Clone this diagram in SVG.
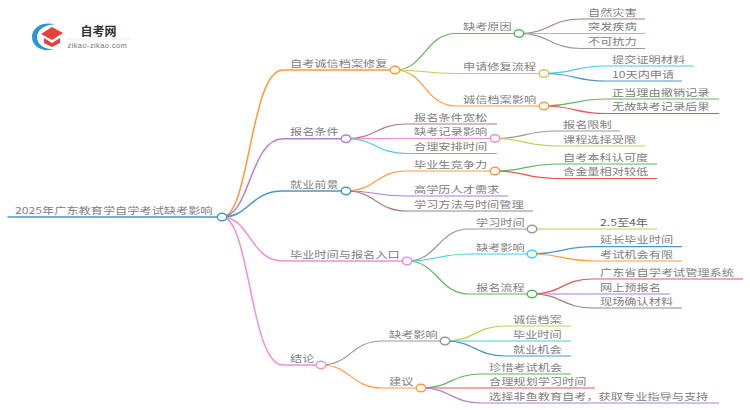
<svg xmlns="http://www.w3.org/2000/svg" width="750" height="410" viewBox="0 0 750 410">
<style>
text{font-family:"Noto Sans CJK SC","Noto Sans",sans-serif;font-size:12.2px;fill:#808080;transform-box:fill-box;transform-origin:0 100%;transform:translateY(-.6px) scaleY(.75)}
#logo text{transform:none}
path{fill:none;stroke-width:1.2}
.n{fill:#fff;stroke-width:1.5}
.or{stroke:#ff9a3c}.pu{stroke:#b07fd6}.bl{stroke:#4a96cc}.pk{stroke:#ee8fd8}.gn{stroke:#5cb85c}.ol{stroke:#cccc55}.br{stroke:#a8807a}.gy{stroke:#999}.cy{stroke:#3fd0e0}.rd{stroke:#e85555}
</style>
<rect width="750" height="410" fill="#fff"/>
<g id="logo">
<path d="M55,24.500 C42,21 32,28 32,37 C32,46 42,53 55,49 C45,50 37,45 37,37 C37,30 45,24 55,24.500Z" style="fill:#2a93d0;stroke:none"/>
<polygon points="41,34 52,27 63,33 52,40" fill="#e8403c"/>
<polygon points="44,38 52,43 60,38 60,43 52,47 44,43" fill="#e8403c"/>
<text x="80.500" y="36" style="font-size:12px;font-weight:700;fill:#333">自考网</text>
<path d="M66,39 H131" style="stroke:#eee;stroke-width:1"/>
<text x="67.500" y="48" style="font-size:7.500px;fill:#777;font-family:'Liberation Sans',sans-serif;letter-spacing:.4px">zikao-zikao.com</text>
</g>
<g id="connectors">
<path class="bl" d="M7.500,217 H222" style="stroke-width:1.500"/>
<path class="or" d="M222,217 C250,217 250,70 283,70 H395" style="stroke-width:1.500"/>
<path class="pu" d="M222,217 C250,217 250,138.700 283,138.700 H346" style="stroke-width:1.500"/>
<path class="bl" d="M222,217 C250,217 250,191 283,191 H346" style="stroke-width:1.500"/>
<path class="pk" d="M222,217 C250,217 250,261 283,261 H407" style="stroke-width:1.500"/>
<path class="pk" d="M222,217 C250,217 250,365 283,365 H321" style="stroke-width:1.500"/>

<path class="gn" d="M395,70 C425,70 425,33.500 456,33.500 H519"/>
<path class="ol" d="M395,70 C425,70 425,73.500 456,73.500 H544"/>
<path class="or" d="M395,70 C425,70 425,106 456,106 H544"/>
<path class="br" d="M519,33.500 C550,33.500 550,19 581,19 H645"/>
<path class="pk" d="M519,33.500 C550,33.500 550,33.500 581,33.500 H645"/>
<path class="gy" d="M519,33.500 C550,33.500 550,48.500 581,48.500 H645"/>
<path class="cy" d="M544,73.500 C575,73.500 575,66 605,66 H694"/>
<path class="bl" d="M544,73.500 C575,73.500 575,81 605,81 H682"/>
<path class="gn" d="M544,106 C575,106 575,99 605,99 H719"/>
<path class="rd" d="M544,106 C575,106 575,113.500 605,113.500 H719"/>

<path class="br" d="M346,138.700 C376,138.700 376,124 407,124 H497"/>
<path class="pk" d="M346,138.700 C376,138.700 376,138.500 407,138.500 H495"/>
<path class="cy" d="M346,138.700 C376,138.700 376,153.500 407,153.500 H497"/>
<path class="gy" d="M495,138.500 C525,138.500 525,131 556,131 H620"/>
<path class="ol" d="M495,138.500 C525,138.500 525,146 556,146 H645"/>

<path class="or" d="M346,191 C376,191 376,171 407,171 H495"/>
<path class="pu" d="M346,191 C376,191 376,196 407,196 H508"/>
<path class="br" d="M346,191 C376,191 376,211 407,211 H533"/>
<path class="gn" d="M495,171 C525,171 525,164 556,164 H657"/>
<path class="rd" d="M495,171 C525,171 525,178.500 556,178.500 H657"/>

<path class="gy" d="M407,261 C438,261 438,229 469,229 H532"/>
<path class="cy" d="M407,261 C438,261 438,254 469,254 H532"/>
<path class="gn" d="M407,261 C438,261 438,294 469,294 H532"/>
<path class="ol" d="M532,229 H657"/>
<path class="bl" d="M532,254 C562,254 562,246.700 593,246.700 H682"/>
<path class="or" d="M532,254 C562,254 562,261 593,261 H682"/>
<path class="rd" d="M532,294 C562,294 562,279 593,279 H743"/>
<path class="pu" d="M532,294 H670"/>
<path class="br" d="M532,294 C562,294 562,308 593,308 H682"/>

<path class="gy" d="M321,365 C351,365 351,341 382,341 H445"/>
<path class="or" d="M321,365 C351,365 351,388 382,388 H421"/>
<path class="ol" d="M445,341 C475,341 475,326 506,326 H571"/>
<path class="cy" d="M445,341 H571"/>
<path class="bl" d="M445,341 C475,341 475,356 506,356 H571"/>
<path class="gn" d="M421,388 C451,388 451,374 482,374 H571"/>
<path class="rd" d="M421,388 H595"/>
<path class="pu" d="M421,388 C451,388 451,403 482,403 H719"/>
</g>

<g id="root"><text x="15" y="213.500">2025年广东教育学自学考试缺考影响</text><ellipse class="n bl" cx="222" cy="217" rx="4.800" ry="3.800"/></g>

<g id="n1"><text x="290" y="66.500">自考诚信档案修复</text><ellipse class="n or" cx="395" cy="70" rx="4.800" ry="3.800"/></g>
<g id="n2"><text x="290" y="135.200">报名条件</text><ellipse class="n pu" cx="346" cy="138.700" rx="4.800" ry="3.800"/></g>
<g id="n3"><text x="290" y="187.500">就业前景</text><ellipse class="n bl" cx="346" cy="191" rx="4.800" ry="3.800"/></g>
<g id="n4"><text x="290" y="257.500">毕业时间与报名入口</text><ellipse class="n pk" cx="407" cy="261" rx="4.800" ry="3.800"/></g>
<g id="n5"><text x="290" y="361.500">结论</text><ellipse class="n pk" cx="321" cy="365" rx="4.800" ry="3.800"/></g>

<g id="n1-1"><text x="463" y="30">缺考原因</text><ellipse class="n gn" cx="519" cy="33.500" rx="4.800" ry="3.800"/></g>
<g id="n1-2"><text x="463" y="70">申请修复流程</text><ellipse class="n ol" cx="544" cy="73.500" rx="4.800" ry="3.800"/></g>
<g id="n1-3"><text x="463" y="102.500">诚信档案影响</text><ellipse class="n or" cx="544" cy="106" rx="4.800" ry="3.800"/></g>
<g id="n1-1-1"><text x="588" y="15.500">自然灾害</text></g>
<g id="n1-1-2"><text x="588" y="30">突发疾病</text></g>
<g id="n1-1-3"><text x="588" y="45">不可抗力</text></g>
<g id="n1-2-1"><text x="612" y="62.500">提交证明材料</text></g>
<g id="n1-2-2"><text x="612" y="77.500">10天内申请</text></g>
<g id="n1-3-1"><text x="612" y="95.500">正当理由撤销记录</text></g>
<g id="n1-3-2"><text x="612" y="110">无故缺考记录后果</text></g>

<g id="n2-1"><text x="414" y="120.500">报名条件宽松</text></g>
<g id="n2-2"><text x="414" y="135">缺考记录影响</text><ellipse class="n pk" cx="495" cy="138.500" rx="4.800" ry="3.800"/></g>
<g id="n2-3"><text x="414" y="150">合理安排时间</text></g>
<g id="n2-2-1"><text x="563" y="127.500">报名限制</text></g>
<g id="n2-2-2"><text x="563" y="142.500">课程选择受限</text></g>

<g id="n3-1"><text x="414" y="167.500">毕业生竞争力</text><ellipse class="n or" cx="495" cy="171" rx="4.800" ry="3.800"/></g>
<g id="n3-2"><text x="414" y="192.500">高学历人才需求</text></g>
<g id="n3-3"><text x="414" y="207.500">学习方法与时间管理</text></g>
<g id="n3-1-1"><text x="563" y="160.500">自考本科认可度</text></g>
<g id="n3-1-2"><text x="563" y="175">含金量相对较低</text></g>

<g id="n4-1"><text x="476" y="225.500">学习时间</text><ellipse class="n gy" cx="532" cy="229" rx="4.800" ry="3.800"/></g>
<g id="n4-2"><text x="476" y="250.500">缺考影响</text><ellipse class="n cy" cx="532" cy="254" rx="4.800" ry="3.800"/></g>
<g id="n4-3"><text x="476" y="290.500">报名流程</text><ellipse class="n gn" cx="532" cy="294" rx="4.800" ry="3.800"/></g>
<g id="n4-1-1"><text x="600" y="225.500" style="fill:#666">2.5至4年</text></g>
<g id="n4-2-1"><text x="600" y="243.200">延长毕业时间</text></g>
<g id="n4-2-2"><text x="600" y="257.500">考试机会有限</text></g>
<g id="n4-3-1"><text x="600" y="275.500">广东省自学考试管理系统</text></g>
<g id="n4-3-2"><text x="600" y="290.500">网上预报名</text></g>
<g id="n4-3-3"><text x="600" y="304.500">现场确认材料</text></g>

<g id="n5-1"><text x="389" y="337.500">缺考影响</text><ellipse class="n gy" cx="445" cy="341" rx="4.800" ry="3.800"/></g>
<g id="n5-2"><text x="389" y="384.500">建议</text><ellipse class="n or" cx="421" cy="388" rx="4.800" ry="3.800"/></g>
<g id="n5-1-1"><text x="513" y="322.500">诚信档案</text></g>
<g id="n5-1-2"><text x="513" y="337.500">毕业时间</text></g>
<g id="n5-1-3"><text x="513" y="352.500">就业机会</text></g>
<g id="n5-2-1"><text x="489" y="370.500">珍惜考试机会</text></g>
<g id="n5-2-2"><text x="489" y="384.500">合理规划学习时间</text></g>
<g id="n5-2-3"><text x="489" y="399.500">选择非鱼教育自考，获取专业指导与支持</text></g>
</svg>
